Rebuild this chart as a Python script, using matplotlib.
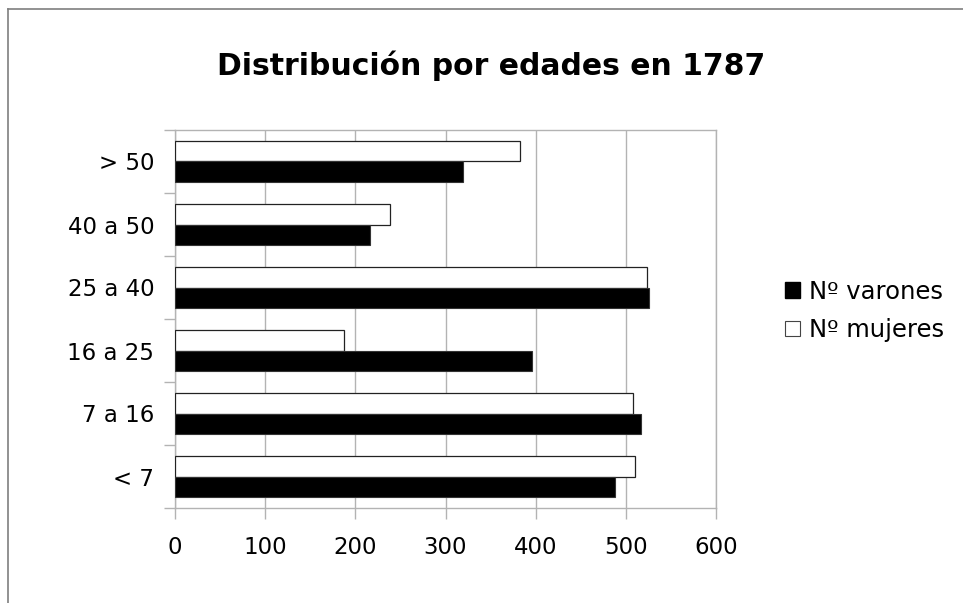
import matplotlib
matplotlib.use('Agg')
import matplotlib.pyplot as plt
from matplotlib.patches import Patch
from matplotlib.lines import Line2D
import numpy as np

# age groups, bottom to top as drawn
categories = ['< 7', '7 a 16', '16 a 25', '25 a 40', '40 a 50', '> 50']
varones = [488, 517, 396, 526, 216, 319]
mujeres = [510, 508, 187, 524, 239, 383]
xticks = [0, 100, 200, 300, 400, 500, 600]

plt.rcParams['font.family'] = ['DejaVu Sans']
grid_col = '#b3b3b3'

fig = plt.figure(figsize=(9.63, 6.03), dpi=100)
ax = fig.add_axes([175 / 963, 95 / 603, 541 / 963, 378 / 603])

y = np.arange(len(categories))
h = 0.325
ax.barh(y + h / 2, mujeres, height=h, color='white', edgecolor='#222222',
        linewidth=0.9, zorder=3, label='Nº mujeres')
ax.barh(y - h / 2, varones, height=h, color='black', edgecolor='#333333',
        linewidth=0.8, zorder=3, label='Nº varones')

ax.set_xlim(0, 600)
ax.set_ylim(-0.5, len(categories) - 0.5)
ax.set_xticks(xticks)
ax.set_xticklabels([str(t) for t in xticks], fontsize=16.5)
ax.set_yticks(y)
ax.set_yticklabels(categories, fontsize=16.5)
ax.set_yticks(np.arange(-0.5, len(categories)), minor=True)

ax.xaxis.grid(True, color=grid_col, linewidth=1, zorder=0)
ax.tick_params(axis='x', which='major', length=8, width=1, color=grid_col, pad=12)
ax.tick_params(axis='y', which='major', length=0, pad=15)
ax.tick_params(axis='y', which='minor', length=8, width=1, color=grid_col)
for s in ax.spines.values():
    s.set_color(grid_col)
    s.set_linewidth(1)

fig.text(491 / 963, 1 - 66 / 603, 'Distribución por edades en 1787',
         fontsize=21.5, fontweight='bold', ha='center', va='center')

handles = [Patch(facecolor='black', edgecolor='black'),
           Patch(facecolor='white', edgecolor='#444444', linewidth=0.8)]
fig.legend(handles, ['Nº varones', 'Nº mujeres'], loc='center left',
           bbox_to_anchor=(785 / 963, 1 - 311 / 603), frameon=False,
           fontsize=17.5, handlelength=0.6, handleheight=0.6,
           handletextpad=0.4, labelspacing=0.6, borderpad=0, borderaxespad=0)

# outer chart frame, only top and left edges fall inside the picture
fig.add_artist(Line2D([8 / 963, 1.0], [1 - 9 / 603, 1 - 9 / 603],
                      transform=fig.transFigure, color='#7f7f7f', linewidth=1.2))
fig.add_artist(Line2D([8 / 963, 8 / 963], [0.0, 1 - 9 / 603],
                      transform=fig.transFigure, color='#7f7f7f', linewidth=1.2))

fig.savefig('out.png', dpi=100)
